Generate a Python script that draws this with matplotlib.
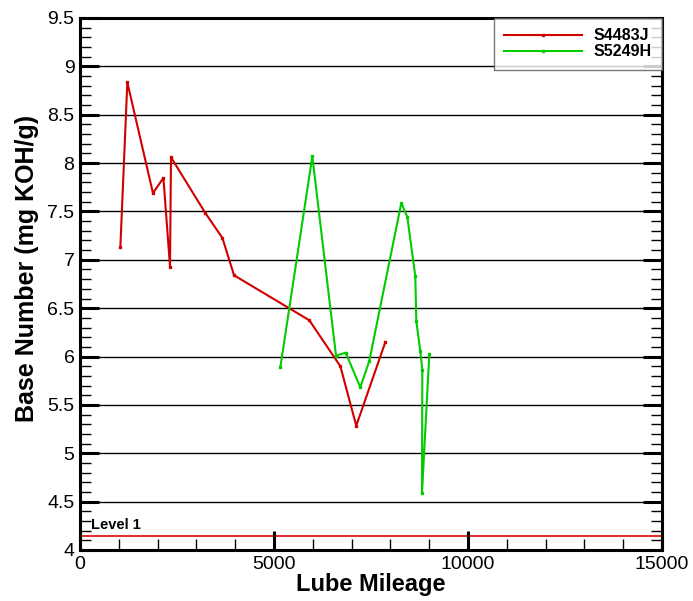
import matplotlib
matplotlib.use("Agg")
import matplotlib.pyplot as plt
from matplotlib.ticker import MultipleLocator

plt.rcParams['font.family'] = ['Liberation Sans', 'DejaVu Sans']

red_x = [1040, 1220, 1880, 2150, 2320, 2345, 3230, 3670, 3970, 5910, 6710, 7120, 7870]
red_y = [7.13, 8.835, 7.69, 7.846, 6.93, 8.06, 7.484, 7.226, 6.84, 6.375, 5.90, 5.285, 6.15]

green_x = [5163, 5988, 6598, 6847, 7224, 7456, 8281, 8436, 8642, 8668, 8771, 8823, 8814, 9003]
green_y = [5.889, 8.07, 6.009, 6.04, 5.682, 5.954, 7.587, 7.443, 6.83, 6.364, 6.054, 5.861, 4.586, 6.026]

level1 = 4.145
series_names = ["S4483J", "S5249H"]
yticks = [4, 4.5, 5, 5.5, 6, 6.5, 7, 7.5, 8, 8.5, 9, 9.5]
ytick_labels = ['4', '4.5', '5', '5.5', '6', '6.5', '7', '7.5', '8', '8.5', '9', '9.5']

fig = plt.figure(figsize=(6.93, 6.01), dpi=100)
ax = fig.add_axes([80/693, 1 - 550/601, 582/693, 532/601])
ax.set_axisbelow(False)

for yv in yticks[1:-1]:
    ax.axhline(yv, color='black', lw=1.0, zorder=1)

ax.axhline(level1, color='#e03030', lw=1.5, zorder=2)
ax.text(280, level1 + 0.04, "Level 1", fontsize=10.5, fontweight='bold', va='bottom', ha='left')

ax.plot(red_x, red_y, color='#d00000', lw=1.5, marker='s', ms=1.8, label=series_names[0], zorder=3)
ax.plot(green_x, green_y, color='#00cc00', lw=1.5, marker='s', ms=1.8, label=series_names[1], zorder=3)

ax.set_xlim(0, 15000)
ax.set_ylim(4, 9.5)
ax.xaxis.set_major_locator(MultipleLocator(5000))
ax.xaxis.set_minor_locator(MultipleLocator(1000))
ax.yaxis.set_minor_locator(MultipleLocator(0.1))
ax.set_yticks(yticks)
ax.set_yticklabels(ytick_labels)
ax.tick_params(axis='both', which='major', direction='in', length=14, width=2.2, labelsize=14, pad=4)
ax.tick_params(axis='both', which='minor', direction='in', length=8, width=1)
ax.tick_params(axis='y', which='both', right=True)
ax.tick_params(axis='x', which='both', top=False)

for s in ax.spines.values():
    s.set_linewidth(2.2)

ax.set_xlabel("Lube Mileage", fontsize=17, fontweight='bold', labelpad=0)
ax.set_ylabel("Base Number (mg KOH/g)", fontsize=18, fontweight='bold')
ax.yaxis.set_label_coords(-0.071, 0.53)

leg = ax.legend(loc='upper right', bbox_to_anchor=(1.0, 1.0), borderaxespad=0,
                prop={'weight': 'bold', 'size': 11.5}, handlelength=4.9,
                frameon=True, fancybox=False, labelspacing=0.05, borderpad=0.65,
                handletextpad=0.7)
leg.get_frame().set_edgecolor('#555555')
leg.get_frame().set_linewidth(1.0)

fig.savefig("out.png", dpi=100)
